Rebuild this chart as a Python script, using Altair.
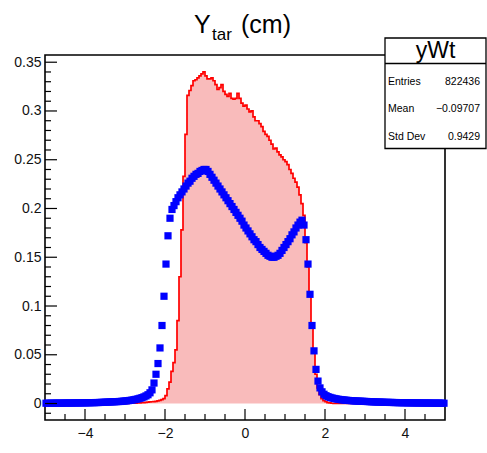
import altair as alt
import pandas as pd
import numpy as np

# ---- data (200 bins of width 0.05 from -5 to 5) ----
x_min, x_max, bin_width = -5.0, 5.0, 0.05

red_hist = [
    0, 0, 0, 0, 0, 0, 0, 0, 0, 0,
    0, 0, 0, 0, 0, 0, 0, 0, 0, 0,
    0, 0, 0, 0, 0, 0, 0, 0, 0, 0,
    0, 0, 0, 0, 0, 0, 0, 0, 0.0001, 0.0001,
    0.0002, 0.0002, 0.0003, 0.0003, 0.0004, 0.0005, 0.0006, 0.0007, 0.0008, 0.001,
    0.0012, 0.0014, 0.0016, 0.0018, 0.002, 0.0023, 0.0027, 0.0032, 0.004, 0.005,
    0.008, 0.015, 0.022, 0.033, 0.042, 0.055, 0.085, 0.13, 0.178, 0.233,
    0.276, 0.316, 0.321, 0.326, 0.331, 0.332, 0.334, 0.336, 0.338, 0.340,
    0.336, 0.333, 0.333, 0.334, 0.331, 0.327, 0.322, 0.324, 0.327, 0.320,
    0.317, 0.315, 0.318, 0.313, 0.312, 0.313, 0.318, 0.313, 0.308, 0.305,
    0.306, 0.302, 0.299, 0.300, 0.294, 0.290, 0.290, 0.287, 0.284, 0.279,
    0.276, 0.274, 0.270, 0.266, 0.261, 0.262, 0.258, 0.255, 0.253, 0.250,
    0.248, 0.245, 0.240, 0.236, 0.231, 0.227, 0.222, 0.214, 0.205, 0.193,
    0.165, 0.140, 0.110, 0.080, 0.052, 0.030, 0.016, 0.009, 0.005, 0.003,
    0.0018, 0.001, 0.0006, 0.0003, 0.0002, 0.0001, 0.0001, 0, 0, 0,
    0, 0, 0, 0, 0, 0, 0, 0, 0, 0,
    0, 0, 0, 0, 0, 0, 0, 0, 0, 0,
    0, 0, 0, 0, 0, 0, 0, 0, 0, 0,
    0, 0, 0, 0, 0, 0, 0, 0, 0, 0,
    0, 0, 0, 0, 0, 0, 0, 0, 0, 0,
]

blue_points = [
    0.0003, 0.0003, 0.0003, 0.0003, 0.0004, 0.0004, 0.0004, 0.0004, 0.0004, 0.0005,
    0.0005, 0.0005, 0.0005, 0.0005, 0.0006, 0.0006, 0.0006, 0.0006, 0.0007, 0.0007,
    0.0007, 0.0008, 0.0008, 0.0009, 0.0009, 0.001, 0.001, 0.0011, 0.0012, 0.0013,
    0.0014, 0.0015, 0.0016, 0.0017, 0.0018, 0.0019, 0.002, 0.0021, 0.0023, 0.0025,
    0.0027, 0.0029, 0.0032, 0.0035, 0.0039, 0.0043, 0.0048, 0.0054, 0.006, 0.0068,
    0.0078, 0.009, 0.011, 0.014, 0.021, 0.030, 0.041, 0.057, 0.080, 0.110,
    0.143, 0.172, 0.190, 0.199, 0.203, 0.207, 0.211, 0.214, 0.217, 0.220,
    0.223, 0.226, 0.228, 0.231, 0.233, 0.235, 0.236, 0.238, 0.239, 0.240,
    0.240, 0.238, 0.235, 0.232, 0.229, 0.226, 0.223, 0.220, 0.217, 0.214,
    0.211, 0.208, 0.205, 0.202, 0.199, 0.196, 0.193, 0.190, 0.187, 0.183,
    0.180, 0.177, 0.174, 0.171, 0.168, 0.166, 0.163, 0.160, 0.158, 0.156,
    0.154, 0.152, 0.151, 0.150, 0.150, 0.151, 0.152, 0.154, 0.157, 0.160,
    0.163, 0.166, 0.169, 0.173, 0.176, 0.180, 0.183, 0.186, 0.188, 0.183,
    0.168, 0.143, 0.112, 0.080, 0.054, 0.035, 0.023, 0.016, 0.012, 0.0095,
    0.008, 0.007, 0.0063, 0.0057, 0.0052, 0.0048, 0.0044, 0.0041, 0.0038, 0.0036,
    0.0034, 0.0032, 0.003, 0.0029, 0.0027, 0.0026, 0.0025, 0.0024, 0.0023, 0.0022,
    0.0021, 0.002, 0.0019, 0.0018, 0.0017, 0.0016, 0.0015, 0.0015, 0.0014, 0.0013,
    0.0012, 0.0012, 0.0011, 0.0011, 0.001, 0.001, 0.0009, 0.0009, 0.0008, 0.0008,
    0.0008, 0.0007, 0.0007, 0.0007, 0.0006, 0.0006, 0.0006, 0.0006, 0.0005, 0.0005,
    0.0005, 0.0005, 0.0005, 0.0004, 0.0004, 0.0004, 0.0004, 0.0004, 0.0003, 0.0003,
]

x_tick_labels = [-4, -2, 0, 2, 4]
y_tick_labels = [0, 0.05, 0.1, 0.15, 0.2, 0.25, 0.3, 0.35]

title_main = "Y"
title_sub = "tar"
title_unit = "(cm)"
stats_name = "yWt"
stats_keys = ["Entries", "Mean", "Std Dev"]
stats_vals = ["822436", "\u22120.09707", "0.9429"]

n = len(red_hist)
assert n == 200 and len(blue_points) == 200
bin_left = [x_min + i * bin_width for i in range(n)]
bin_center = [x_min + (i + 0.5) * bin_width for i in range(n)]

hist_df = pd.DataFrame({"x": bin_left + [x_max], "y": red_hist + [red_hist[-1]]})
pts_df = pd.DataFrame({"x": bin_center, "y": blue_points})

# tick positions (ROOT style, drawn inward)
y_major = y_tick_labels
y_minor = [round(v, 3) for v in np.arange(-0.01, 0.355, 0.01)
           if all(abs(v - m) > 1e-6 for m in y_major)]
x_major = x_tick_labels
x_minor = [v for v in np.arange(-4.5, 5.0, 0.5) if all(abs(v - m) > 1e-6 for m in x_major)]

W, H = 400, 365
FONT = "Liberation Sans"

xscale = alt.Scale(domain=[x_min, x_max], nice=False, zero=False)
yscale = alt.Scale(domain=[-0.0169, 0.3574], nice=False, zero=False)

x_axis = alt.Axis(values=x_tick_labels, title=None, ticks=False, domain=False, grid=False,
                  labelFontSize=14, labelFont=FONT, labelColor="#111", labelPadding=6,
                  labelFlush=False, labelOverlap=False, format="~g")
y_axis = alt.Axis(values=y_tick_labels, title=None, ticks=False, domain=False, grid=False,
                  labelFontSize=14, labelFont=FONT, labelColor="#111", labelPadding=4,
                  labelFlush=False, labelOverlap=False, format="~g")

X = lambda: alt.X("x:Q", scale=xscale, axis=x_axis)
Y = lambda: alt.Y("y:Q", scale=yscale, axis=y_axis)

fill = alt.Chart(hist_df).mark_area(interpolate="step-after", color="#f9bbbb", opacity=1).encode(x=X(), y=Y())
outline = alt.Chart(hist_df).mark_line(interpolate="step-after", color="#ff0000", strokeWidth=1.7).encode(x=X(), y=Y())
points = alt.Chart(pts_df).mark_square(size=52, color="#0000ff", opacity=1, filled=True).encode(x=X(), y=Y())

ymaj = alt.Chart(pd.DataFrame({"y": y_major})).mark_rule(color="black", strokeWidth=1.2).encode(
    y=Y(), x=alt.value(0), x2=alt.value(12))
ymin = alt.Chart(pd.DataFrame({"y": y_minor})).mark_rule(color="black", strokeWidth=1.2).encode(
    y=Y(), x=alt.value(0), x2=alt.value(6))
xmaj = alt.Chart(pd.DataFrame({"x": x_major})).mark_rule(color="black", strokeWidth=1.2).encode(
    x=X(), y=alt.value(H), y2=alt.value(H - 11))
xmin = alt.Chart(pd.DataFrame({"x": x_minor})).mark_rule(color="black", strokeWidth=1.2).encode(
    x=X(), y=alt.value(H), y2=alt.value(H - 6))

one = pd.DataFrame({"k": [0]})


def label(text, x, y, size, align="left", baseline="alphabetic"):
    return alt.Chart(one).mark_text(text=text, font=FONT, fontSize=size, align=align,
                                    baseline=baseline, color="black").encode(
        x=alt.value(x), y=alt.value(y))


t1 = label(title_main, 149, -22, 25)
t2 = label(title_sub, 167, -15.5, 17)
t3 = label(title_unit, 196, -22, 25)

box = alt.Chart(one).mark_rect(fill="white", stroke="black", strokeWidth=1.3).encode(
    x=alt.value(340), x2=alt.value(441), y=alt.value(-17), y2=alt.value(93.5))
divider = alt.Chart(one).mark_rule(color="black", strokeWidth=1.3).encode(
    x=alt.value(340), x2=alt.value(441), y=alt.value(8.5))
box_title = label(stats_name, 390.5, 3, 23, align="center")

row_ys = [27.3, 54.3, 82.3]
stat_layers = []
for k, v, ry in zip(stats_keys, stats_vals, row_ys):
    stat_layers.append(label(k, 343, ry, 10.5, baseline="middle"))
    stat_layers.append(label(v, 435, ry, 10.5, align="right", baseline="middle"))

chart = alt.layer(
    fill, outline, points, ymaj, ymin, xmaj, xmin, t1, t2, t3, box, divider, box_title, *stat_layers
).properties(
    width=W, height=H,
    autosize=alt.AutoSizeParams(type="none"),
    padding={"left": 45, "top": 55, "right": 42, "bottom": 33},
    background="white",
).configure_view(stroke="black", strokeWidth=1.6)

chart.save("out.html", embed_options={"renderer": "svg", "actions": False})
